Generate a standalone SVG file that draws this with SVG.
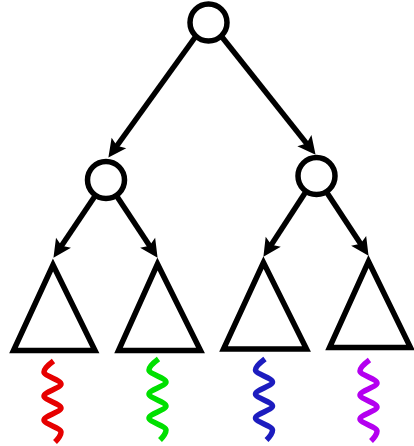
<svg xmlns="http://www.w3.org/2000/svg" xmlns:xlink="http://www.w3.org/1999/xlink" width="414" height="446" viewBox="0 0 414 446">
  <style>
    .node { fill: #ffffff; stroke: #000000; stroke-width: 5.5; }
    .tri { fill: none; stroke: #000000; stroke-width: 5.5; stroke-linejoin: miter; }
    .edge { fill: none; stroke: #000000; stroke-width: 5.5; marker-end: url(#arrow); }
    .wave { fill: none; stroke-width: 5.5; stroke-linecap: butt; }
  </style>
  <defs>
    <marker id="arrow" markerUnits="userSpaceOnUse" markerWidth="30" markerHeight="30" viewBox="-10 -15 30 30" refX="0" refY="0" orient="auto" overflow="visible">
      <path d="M13,0 L-5,-9 L-1.5,0 L-5,9 Z" fill="#000000"/>
    </marker>
    <path id="wavepath" d="M1,0 C-3,3 -8.5,7 -8.5,11 C-8.5,15 8.5,19 8.5,23 C8.5,27 -8.5,31 -8.5,35 C-8.5,39 8.5,43 8.5,47 C8.5,51 -8.5,55 -8.5,59 C-8.5,63 8.5,67 8.5,71 C8.5,75 5.5,78 2.5,81"/>
  </defs>
  <rect width="414" height="446" fill="#ffffff"/>
  <g id="connectors">
    <line class="edge" x1="196" y1="36" x2="116" y2="147"/>
    <line class="edge" x1="222" y1="37" x2="307.5" y2="144.6"/>
    <line class="edge" x1="95" y1="196" x2="60.7" y2="247"/>
    <line class="edge" x1="117" y1="196.5" x2="150.4" y2="247"/>
    <line class="edge" x1="305" y1="193" x2="270.5" y2="245.9"/>
    <line class="edge" x1="327" y1="192.7" x2="361.4" y2="245"/>
  </g>
  <g id="root"><circle class="node" cx="208.5" cy="22.5" r="18.5"/></g>
  <g id="mid-left"><circle class="node" cx="106" cy="180" r="18.5"/></g>
  <g id="mid-right"><circle class="node" cx="316.5" cy="176" r="18.5"/></g>
  <g id="tri-1"><path class="tri" d="M53,265 L13.5,350.5 L95,350.5 Z"/></g>
  <g id="tri-2"><path class="tri" d="M157.5,264 L118.5,350.5 L200.5,350.5 Z"/></g>
  <g id="tri-3"><path class="tri" d="M263.5,262.5 L223.5,349 L306.5,349 Z"/></g>
  <g id="tri-4"><path class="tri" d="M368.5,261.5 L329.5,347.5 L410.5,347.5 Z"/></g>
  <g id="wave-1"><use xlink:href="#wavepath" class="wave" x="52.5" y="361" stroke="#e60000"/></g>
  <g id="wave-2"><use xlink:href="#wavepath" class="wave" x="157.5" y="359" stroke="#00e000"/></g>
  <g id="wave-3"><use xlink:href="#wavepath" class="wave" x="264" y="359" stroke="#1c1cbf"/></g>
  <g id="wave-4"><use xlink:href="#wavepath" class="wave" x="368.5" y="360" stroke="#b400f0"/></g>
</svg>
